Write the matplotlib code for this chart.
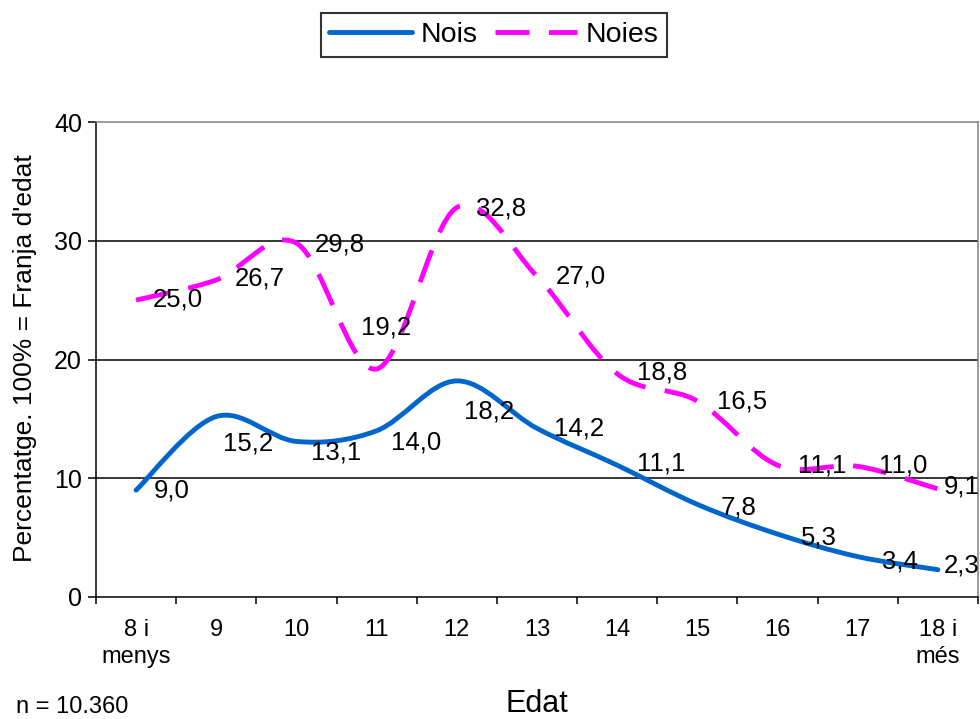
import numpy as np
import matplotlib as mpl
mpl.use('Agg')
import matplotlib.pyplot as plt
from matplotlib.path import Path
from matplotlib.patches import PathPatch
from matplotlib.lines import Line2D

plt.rcParams['font.family'] = ['Liberation Sans', 'DejaVu Sans']

# data
categories = ['8 i\nmenys', '9', '10', '11', '12', '13', '14', '15', '16', '17', '18 i\nmés']
nois = [9.0, 15.2, 13.1, 14.0, 18.2, 14.2, 11.1, 7.8, 5.3, 3.4, 2.3]
noies = [25.0, 26.7, 29.8, 19.2, 32.8, 27.0, 18.8, 16.5, 11.1, 11.0, 9.1]

# label offsets in pixels (dx, dy up)
nois_off = [(36, 0), (32, -27), (40, -11), (39, -12), (32, -31), (42, 0),
            (44, 2), (41, -3), (41, -3), (42, -5), (24, 4)]
noies_off = [(42, 1), (43, 1), (43, -1), (9, 42), (44, -1), (44, 0),
             (45, 1), (45, 0), (45, 0), (45, 1), (24, 2)]

BLUE = '#0066CC'
MAGENTA = '#FF00FF'
FS_TICK = 17
FS_LAB = 18.5


def smooth_path(x, y, t=1.0 / 6):
    # Excel-like smoothed line as cubic bezier segments (Catmull-Rom)
    pts = np.column_stack([x, y]).astype(float)
    n = len(pts)
    verts = [pts[0]]
    codes = [Path.MOVETO]
    for i in range(n - 1):
        p0 = pts[max(i - 1, 0)]
        p1 = pts[i]
        p2 = pts[i + 1]
        p3 = pts[min(i + 2, n - 1)]
        c1 = p1 + (p2 - p0) * t
        c2 = p2 - (p3 - p1) * t
        verts += [c1, c2, p2]
        codes += [Path.CURVE4] * 3
    return Path(verts, codes)


fig = plt.figure(figsize=(9.8, 7.19), dpi=100)
ax = fig.add_axes([96 / 980, 1 - 597 / 719, (978 - 96) / 980, (597 - 122) / 719])

x = np.arange(len(categories))
ax.set_xlim(-0.5, len(categories) - 0.5)
ax.set_ylim(0, 40)

ax.add_patch(PathPatch(smooth_path(x, nois), fill=False, edgecolor=BLUE,
                       lw=3.5, capstyle='round', joinstyle='round', zorder=3))
ax.add_patch(PathPatch(smooth_path(x, noies), fill=False, edgecolor=MAGENTA,
                       lw=3.5, linestyle=(0, (7, 4)), capstyle='butt', zorder=3))

for xi, v, off in zip(x, nois, nois_off):
    ax.annotate(f'{v:.1f}'.replace('.', ','), (xi, v), xytext=off,
                textcoords='offset pixels', ha='center', va='center',
                fontsize=FS_LAB, annotation_clip=False, zorder=4)
for xi, v, off in zip(x, noies, noies_off):
    ax.annotate(f'{v:.1f}'.replace('.', ','), (xi, v), xytext=off,
                textcoords='offset pixels', ha='center', va='center',
                fontsize=FS_LAB, annotation_clip=False, zorder=4)

# grid
for yv in [10, 20, 30]:
    ax.axhline(yv, color='black', lw=1.1, zorder=1)

ax.set_yticks([0, 10, 20, 30, 40])
ax.tick_params(axis='y', direction='out', length=6, width=1.1, pad=4, labelsize=18)
ax.set_xticks(np.arange(-0.5, len(categories)))
ax.set_xticklabels([])
ax.tick_params(axis='x', which='major', direction='out', length=5, width=1.1)
ax.set_xticks(x, minor=True)
ax.set_xticklabels(categories, minor=True, fontsize=FS_TICK, linespacing=1.3)
ax.tick_params(axis='x', which='minor', length=0, pad=16)

for s in ['left', 'bottom']:
    ax.spines[s].set_color('black')
    ax.spines[s].set_linewidth(1.1)
for s in ['top', 'right']:
    ax.spines[s].set_color('#808080')
    ax.spines[s].set_linewidth(1.1)

fig.text(25 / 980, 1 - 358 / 719, "Percentatge. 100% = Franja d'edat",
         rotation=90, ha='center', va='center', fontsize=19)
fig.text(537 / 980, 1 - 704 / 719, 'Edat', ha='center', va='center', fontsize=22)
fig.text(16 / 980, 1 - 707 / 719, 'n = 10.360', ha='left', va='center', fontsize=17)

handles = [Line2D([], [], color=BLUE, lw=3.5, solid_capstyle='round'),
           Line2D([], [], color=MAGENTA, lw=3.5, linestyle=(0, (7, 4)), dash_capstyle='butt')]
leg = fig.legend(handles, ['Nois', 'Noies'], loc='center', ncol=2,
                 bbox_to_anchor=(494 / 980, 1 - 35 / 719), fontsize=20.5,
                 frameon=True, fancybox=False, handlelength=2.9,
                 handletextpad=0.3, columnspacing=0.6, borderpad=0.3,
                 borderaxespad=0)
leg.get_frame().set_edgecolor('black')
leg.get_frame().set_linewidth(1.5)

fig.savefig('out.png', dpi=100)
